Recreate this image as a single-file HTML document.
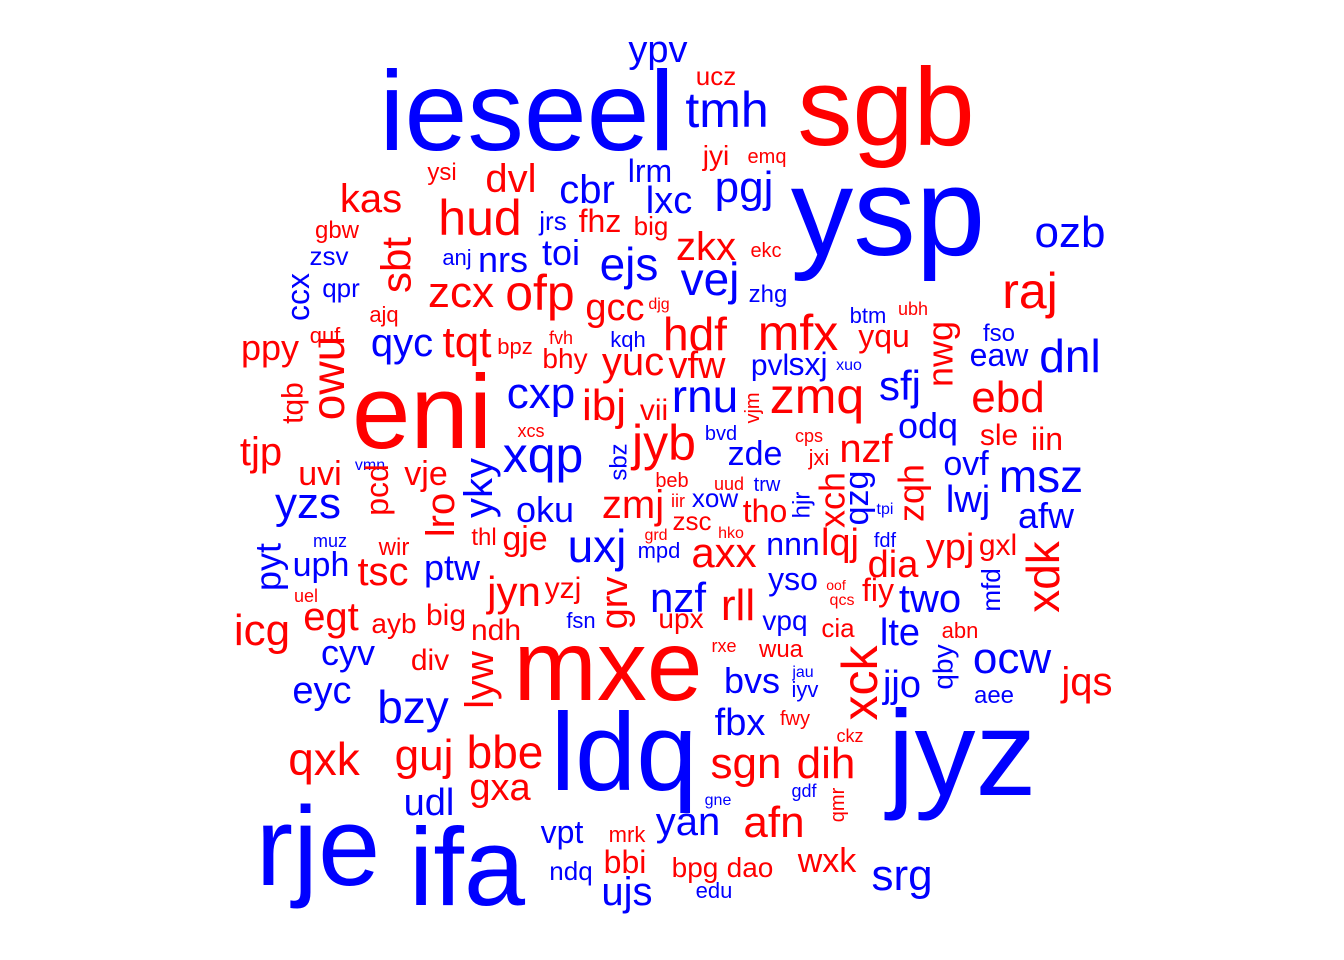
<!DOCTYPE html>
<html><head><meta charset="utf-8"><style>
html,body{margin:0;padding:0;background:#fff;}
svg{display:block;}
text{font-family:"Liberation Sans",Arial,sans-serif;text-anchor:middle;}
.r{fill:#ff0000}.b{fill:#0000ff}
.v{dominant-baseline:central}
</style></head><body>
<svg width="1344" height="960" viewBox="0 0 1344 960" xmlns="http://www.w3.org/2000/svg">
<text class="b" x="658" y="62" font-size="38">ypv</text>
<text class="r" x="716" y="85" font-size="26">ucz</text>
<text class="b" x="527" y="150" font-size="113">ieseel</text>
<text class="b" x="727" y="127" font-size="50">tmh</text>
<text class="r" x="886" y="145" font-size="110">sgb</text>
<text class="r" x="716" y="165" font-size="28">jyi</text>
<text class="r" x="767" y="163" font-size="20">emq</text>
<text class="b" x="650" y="182" font-size="32">lrm</text>
<text class="r" x="442" y="180" font-size="24">ysi</text>
<text class="r" x="511" y="192" font-size="40">dvl</text>
<text class="b" x="587" y="203" font-size="40">cbr</text>
<text class="b" x="669" y="213" font-size="38">lxc</text>
<text class="b" x="744" y="202" font-size="44">pgj</text>
<text class="b" x="888" y="255" font-size="125">ysp</text>
<text class="r" x="371" y="212" font-size="40">kas</text>
<text class="r" x="480" y="235" font-size="50">hud</text>
<text class="b" x="553" y="230" font-size="26">jrs</text>
<text class="r" x="600" y="232" font-size="32">fhz</text>
<text class="r" x="651" y="235" font-size="26">big</text>
<text class="r" x="337" y="238" font-size="24">gbw</text>
<text class="b" x="1070" y="247" font-size="44">ozb</text>
<text class="r" x="706" y="260" font-size="40">zkx</text>
<text class="r" x="766" y="257" font-size="20">ekc</text>
<text class="b" x="561" y="265" font-size="36">toi</text>
<text class="b" x="629" y="280" font-size="46">ejs</text>
<text class="r v" transform="translate(396,265) rotate(-90)" font-size="42">sbt</text>
<text class="b" x="329" y="265" font-size="26">zsv</text>
<text class="b" x="457" y="265" font-size="22">anj</text>
<text class="b" x="503" y="272" font-size="36">nrs</text>
<text class="b" x="710" y="295" font-size="46">vej</text>
<text class="b" x="768" y="302" font-size="24">zhg</text>
<text class="r" x="1030" y="308" font-size="50">raj</text>
<text class="b v" transform="translate(298,297) rotate(-90)" font-size="32">ccx</text>
<text class="b" x="341" y="297" font-size="26">qpr</text>
<text class="r" x="461" y="307" font-size="44">zcx</text>
<text class="r" x="540" y="310" font-size="50">ofp</text>
<text class="r" x="615" y="320" font-size="38">gcc</text>
<text class="r" x="659" y="309" font-size="16">djg</text>
<text class="r" x="384" y="322" font-size="22">ajq</text>
<text class="b" x="868" y="323" font-size="22">btm</text>
<text class="r" x="913" y="315" font-size="18">ubh</text>
<text class="r" x="695" y="350" font-size="46">hdf</text>
<text class="r" x="798" y="350" font-size="50">mfx</text>
<text class="r v" transform="translate(940,354) rotate(-90)" font-size="36">nwg</text>
<text class="b" x="999" y="341" font-size="24">fso</text>
<text class="r" x="325" y="343" font-size="22">quf</text>
<text class="r" x="270" y="360" font-size="36">ppy</text>
<text class="b" x="402" y="356" font-size="40">qyc</text>
<text class="r" x="467" y="357" font-size="44">tqt</text>
<text class="r" x="515" y="354" font-size="22">bpz</text>
<text class="r" x="561" y="344" font-size="18">fvh</text>
<text class="r" x="565" y="368" font-size="28">bhy</text>
<text class="b" x="628" y="347" font-size="22">kqh</text>
<text class="r" x="884" y="347" font-size="32">yqu</text>
<text class="b" x="999" y="366" font-size="32">eaw</text>
<text class="b" x="1070" y="372" font-size="46">dnl</text>
<text class="r v" transform="translate(328,378) rotate(-90)" font-size="46">owu</text>
<text class="r" x="633" y="375" font-size="40">yuc</text>
<text class="r" x="697" y="378" font-size="38">vfw</text>
<text class="b" x="770" y="375" font-size="30">pvl</text>
<text class="b" x="808" y="375" font-size="32">sxj</text>
<text class="b" x="849" y="370" font-size="16">xuo</text>
<text class="r" x="422" y="448" font-size="105">eni</text>
<text class="r v" transform="translate(293,403) rotate(-90)" font-size="30">tqb</text>
<text class="b" x="541" y="408" font-size="44">cxp</text>
<text class="r" x="604" y="420" font-size="44">ibj</text>
<text class="r" x="654" y="420" font-size="30">vii</text>
<text class="b" x="705" y="412" font-size="46">rnu</text>
<text class="r v" transform="translate(753,408) rotate(-90)" font-size="20">vjm</text>
<text class="r" x="817" y="413" font-size="50">zmq</text>
<text class="b" x="900" y="400" font-size="42">sfj</text>
<text class="r" x="1008" y="412" font-size="44">ebd</text>
<text class="r" x="531" y="437" font-size="18">xcs</text>
<text class="b" x="928" y="438" font-size="36">odq</text>
<text class="b" x="721" y="440" font-size="20">bvd</text>
<text class="r" x="809" y="442" font-size="18">cps</text>
<text class="r" x="999" y="445" font-size="30">sle</text>
<text class="r" x="1047" y="450" font-size="32">iin</text>
<text class="r" x="664" y="460" font-size="50">jyb</text>
<text class="b v" transform="translate(619,462) rotate(-90)" font-size="24">sbz</text>
<text class="r" x="261" y="465" font-size="40">tjp</text>
<text class="b" x="543" y="472" font-size="50">xqp</text>
<text class="b" x="755" y="465" font-size="34">zde</text>
<text class="r" x="819" y="465" font-size="22">jxi</text>
<text class="r" x="866" y="462" font-size="40">nzf</text>
<text class="r" x="320" y="485" font-size="34">uvi</text>
<text class="b" x="370" y="470" font-size="16">vmn</text>
<text class="r" x="426" y="485" font-size="34">vje</text>
<text class="b v" transform="translate(479,488) rotate(-90)" font-size="40">yky</text>
<text class="b" x="966" y="475" font-size="34">ovf</text>
<text class="b" x="1041" y="492" font-size="46">msz</text>
<text class="r" x="672" y="487" font-size="20">beb</text>
<text class="r" x="729" y="490" font-size="18">uud</text>
<text class="b" x="767" y="491" font-size="20">trw</text>
<text class="b v" transform="translate(802,505) rotate(-90)" font-size="24">hjr</text>
<text class="r v" transform="translate(832,500) rotate(-90)" font-size="36">xch</text>
<text class="b v" transform="translate(857,498) rotate(-90)" font-size="34">qzg</text>
<text class="r v" transform="translate(911,493) rotate(-90)" font-size="36">zqh</text>
<text class="b" x="308" y="518" font-size="44">yzs</text>
<text class="r v" transform="translate(377,490) rotate(-90)" font-size="32">pcd</text>
<text class="r" x="633" y="518" font-size="40">zmj</text>
<text class="r" x="678" y="507" font-size="18">iir</text>
<text class="b" x="715" y="507" font-size="26">xow</text>
<text class="r" x="765" y="522" font-size="32">tho</text>
<text class="b" x="885" y="514" font-size="16">tpi</text>
<text class="b" x="968" y="512" font-size="38">lwj</text>
<text class="b" x="1046" y="528" font-size="36">afw</text>
<text class="r v" transform="translate(441,515) rotate(-90)" font-size="40">lro</text>
<text class="b" x="545" y="522" font-size="36">oku</text>
<text class="r" x="692" y="530" font-size="26">zsc</text>
<text class="r" x="484" y="545" font-size="24">thl</text>
<text class="r" x="525" y="550" font-size="34">gje</text>
<text class="b" x="597" y="562" font-size="46">uxj</text>
<text class="r" x="656" y="540" font-size="16">grd</text>
<text class="r" x="731" y="538" font-size="16">hko</text>
<text class="b" x="330" y="547" font-size="18">muz</text>
<text class="r" x="394" y="555" font-size="24">wir</text>
<text class="b" x="885" y="547" font-size="20">fdf</text>
<text class="b" x="793" y="555" font-size="32">nnn</text>
<text class="r" x="840" y="555" font-size="38">lqj</text>
<text class="r" x="893" y="577" font-size="38">dia</text>
<text class="r" x="950" y="560" font-size="38">ypj</text>
<text class="r" x="998" y="555" font-size="30">gxl</text>
<text class="r v" transform="translate(1043,577) rotate(-90)" font-size="46">xdk</text>
<text class="b v" transform="translate(268,567) rotate(-90)" font-size="36">pyt</text>
<text class="b" x="321" y="576" font-size="34">uph</text>
<text class="r" x="383" y="585" font-size="40">tsc</text>
<text class="b" x="452" y="580" font-size="36">ptw</text>
<text class="b" x="659" y="558" font-size="22">mpd</text>
<text class="r" x="724" y="567" font-size="42">axx</text>
<text class="b" x="793" y="590" font-size="32">yso</text>
<text class="r" x="514" y="606" font-size="42">jyn</text>
<text class="r" x="563" y="598" font-size="30">yzj</text>
<text class="r v" transform="translate(615,603) rotate(-90)" font-size="38">grv</text>
<text class="b" x="678" y="612" font-size="42">nzf</text>
<text class="r" x="738" y="620" font-size="44">rll</text>
<text class="b v" transform="translate(991,590) rotate(-90)" font-size="26">mfd</text>
<text class="r" x="836" y="590" font-size="14">oof</text>
<text class="r" x="842" y="605" font-size="16">qcs</text>
<text class="r" x="878" y="601" font-size="32">fiy</text>
<text class="b" x="930" y="612" font-size="40">two</text>
<text class="r" x="306" y="602" font-size="18">uel</text>
<text class="r" x="262" y="645" font-size="44">icg</text>
<text class="r" x="331" y="630" font-size="40">egt</text>
<text class="r" x="394" y="633" font-size="28">ayb</text>
<text class="r" x="446" y="625" font-size="30">big</text>
<text class="r" x="496" y="640" font-size="30">ndh</text>
<text class="b" x="581" y="628" font-size="22">fsn</text>
<text class="r" x="681" y="628" font-size="28">upx</text>
<text class="b" x="785" y="630" font-size="28">vpq</text>
<text class="r" x="838" y="637" font-size="26">cia</text>
<text class="b" x="900" y="645" font-size="38">lte</text>
<text class="r" x="960" y="638" font-size="22">abn</text>
<text class="b" x="348" y="665" font-size="36">cyv</text>
<text class="r" x="430" y="670" font-size="30">div</text>
<text class="r v" transform="translate(480,680) rotate(-90)" font-size="40">lyw</text>
<text class="r" x="608" y="700" font-size="100">mxe</text>
<text class="r" x="724" y="652" font-size="18">rxe</text>
<text class="r" x="781" y="657" font-size="24">wua</text>
<text class="r v" transform="translate(860,683) rotate(-90)" font-size="50">xck</text>
<text class="b v" transform="translate(943,667) rotate(-90)" font-size="28">qby</text>
<text class="b" x="1012" y="673" font-size="44">ocw</text>
<text class="r" x="1087" y="695" font-size="40">jqs</text>
<text class="b" x="803" y="677" font-size="16">jau</text>
<text class="b" x="805" y="697" font-size="22">iyv</text>
<text class="b" x="752" y="693" font-size="36">bvs</text>
<text class="b" x="902" y="697" font-size="38">jjo</text>
<text class="b" x="322" y="703" font-size="38">eyc</text>
<text class="b" x="994" y="703" font-size="24">aee</text>
<text class="b" x="413" y="723" font-size="46">bzy</text>
<text class="b" x="740" y="735" font-size="38">fbx</text>
<text class="r" x="795" y="725" font-size="20">fwy</text>
<text class="b" x="624" y="790" font-size="110">ldq</text>
<text class="b" x="962" y="795" font-size="122">jyz</text>
<text class="r" x="850" y="742" font-size="18">ckz</text>
<text class="r" x="324" y="775" font-size="46">qxk</text>
<text class="r" x="424" y="770" font-size="44">guj</text>
<text class="r" x="505" y="768" font-size="46">bbe</text>
<text class="r" x="746" y="778" font-size="44">sgn</text>
<text class="r" x="826" y="778" font-size="44">dih</text>
<text class="r" x="500" y="800" font-size="38">gxa</text>
<text class="b" x="429" y="815" font-size="38">udl</text>
<text class="b" x="718" y="805" font-size="16">gne</text>
<text class="b" x="804" y="797" font-size="18">gdf</text>
<text class="r v" transform="translate(838,805) rotate(-90)" font-size="20">qmr</text>
<text class="b" x="318" y="885" font-size="112">rje</text>
<text class="b" x="467" y="905" font-size="110">ifa</text>
<text class="b" x="562" y="843" font-size="32">vpt</text>
<text class="r" x="627" y="842" font-size="22">mrk</text>
<text class="b" x="688" y="835" font-size="40">yan</text>
<text class="r" x="774" y="837" font-size="44">afn</text>
<text class="r" x="625" y="873" font-size="32">bbi</text>
<text class="b" x="571" y="880" font-size="26">ndq</text>
<text class="r" x="695" y="877" font-size="28">bpg</text>
<text class="r" x="750" y="877" font-size="28">dao</text>
<text class="r" x="827" y="872" font-size="34">wxk</text>
<text class="b" x="902" y="890" font-size="44">srg</text>
<text class="b" x="714" y="898" font-size="22">edu</text>
<text class="b" x="627" y="905" font-size="40">ujs</text>
</svg>
</body></html>
